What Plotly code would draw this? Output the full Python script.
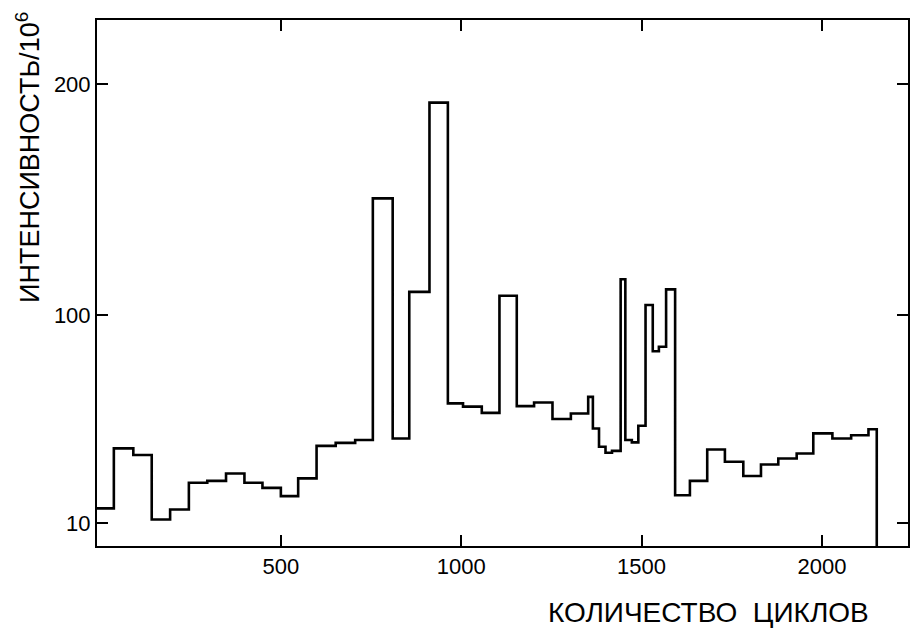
import plotly.graph_objects as go

# Bin edges (number of cycles) and step heights (intensity / 10^6)
bin_edges = [-10, 37, 91, 142, 193, 245, 296, 348, 399, 449, 500, 548, 599, 652, 706,
             755, 810, 856, 912, 963, 1005, 1057, 1106, 1154, 1202, 1253, 1304, 1352,
             1365, 1382, 1400, 1418, 1442, 1455, 1473, 1491, 1511, 1531, 1548, 1568,
             1593, 1634, 1682, 1731, 1782, 1831, 1879, 1930, 1976, 2029, 2081, 2129, 2152]
intensity = [16.3, 42.3, 39.4, 11.5, 15.8, 27.4, 28.2, 31.4, 27.4, 25.2, 21.6, 29.3,
             43.4, 44.7, 45.9, 150.6, 46.6, 110.1, 192.1, 61.8, 60.4, 57.7, 108.4, 60.6,
             62.2, 55.0, 57.4, 64.6, 50.9, 43.0, 40.4, 41.2, 115.6, 45.9, 44.9, 52.1,
             104.4, 84.4, 86.3, 111.2, 22.0, 28.2, 41.8, 36.5, 30.3, 35.3, 37.9, 40.1,
             48.8, 46.6, 48.0, 50.6]

x_ticks = [500, 1000, 1500, 2000]
y_ticks = [10, 100, 200]
x_title = "КОЛИЧЕСТВО  ЦИКЛОВ"
y_title = "ИНТЕНСИВНОСТЬ/10<sup>6</sup>"

xs = list(bin_edges) + [bin_edges[-1]]
ys = list(intensity) + [intensity[-1], 0]

fig = go.Figure()
fig.add_trace(go.Scatter(
    x=xs, y=ys, mode="lines", line_shape="hv",
    line=dict(color="black", width=2.6), hoverinfo="skip", showlegend=False,
))

font_family = "Liberation Sans, Arial, sans-serif"

axis_common = dict(
    ticks="inside", ticklen=11, tickwidth=1.5, tickcolor="black",
    showline=True, linecolor="black", linewidth=2, mirror="ticks",
    showgrid=False, zeroline=False, automargin=False,
    tickfont=dict(size=22, family=font_family, color="black"),
)

fig.update_layout(
    width=910, height=628,
    margin=dict(l=97, r=2, t=20, b=82),
    paper_bgcolor="white", plot_bgcolor="white",
    font=dict(family=font_family, color="black", size=22),
    xaxis=dict(range=[-9.7, 2238.6], tickvals=x_ticks, **axis_common),
    yaxis=dict(range=[0, 227.9], tickvals=y_ticks, **axis_common),
    annotations=[
        dict(text=x_title, xref="paper", yref="paper", x=0.7534, y=-0.1255,
             xanchor="center", yanchor="middle", showarrow=False,
             font=dict(size=28, family=font_family, color="black")),
        dict(text=y_title, xref="paper", yref="paper", x=-0.0851, y=0.7395,
             xanchor="center", yanchor="middle", showarrow=False, textangle=-90,
             font=dict(size=27, family=font_family, color="black")),
    ],
)

fig.write_html(
    "out.html",
    config={"displayModeBar": False},
    post_script="document.body.style.margin='0';document.body.style.overflow='hidden';",
)
